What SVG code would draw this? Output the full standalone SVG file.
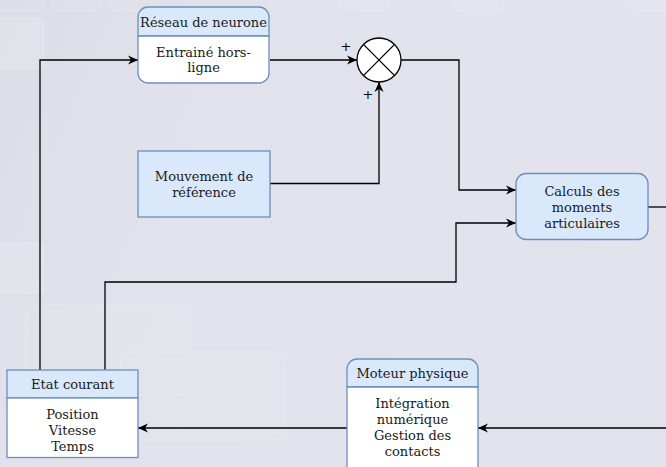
<svg xmlns="http://www.w3.org/2000/svg" width="666" height="467" viewBox="0 0 666 467">
<defs>
<linearGradient id="bg" x1="0" y1="0" x2="1" y2="0.3">
<stop offset="0" stop-color="#dcdde6"/>
<stop offset="0.35" stop-color="#e1e2eb"/>
<stop offset="1" stop-color="#e2e3ec"/>
</linearGradient>
<marker id="arr" viewBox="0 0 10 10" refX="10" refY="5" markerWidth="10" markerHeight="10" markerUnits="userSpaceOnUse" orient="auto">
<path d="M0,0.5 L10,5 L0,9.5 L3,5 z" fill="#000"/>
</marker>
<style>
.deco{fill:#ffffff;fill-opacity:0.04;stroke:#ffffff;stroke-opacity:0.25;stroke-width:1}
.hdr{fill:#dae8fc;stroke:#6c8ebf;stroke-width:1.3}
.body{fill:#ffffff;stroke:#6c8ebf;stroke-width:1.3}
.t{font-family:"DejaVu Serif",serif;font-size:13px;fill:#1a1a1a;text-anchor:middle}
.c{fill:none;stroke:#000;stroke-width:1.3}
.ca{fill:none;stroke:#000;stroke-width:1.3;marker-end:url(#arr)}
.plus{font-family:"DejaVu Sans",sans-serif;font-size:13px;fill:#000;text-anchor:middle}
</style>
</defs>
<rect x="0" y="0" width="666" height="467" fill="url(#bg)"/>
<g id="background">
<rect class="deco" x="-10" y="-20" width="54" height="31" rx="5"/>
<rect class="deco" x="53" y="-20" width="48" height="31" rx="5"/>
<rect class="deco" x="110" y="-20" width="48" height="31" rx="5"/>
<rect class="deco" x="340" y="-20" width="48" height="31" rx="5"/>
<rect class="deco" x="454" y="-20" width="49" height="31" rx="5"/>
<rect class="deco" x="626" y="-20" width="60" height="31" rx="5"/>
<rect class="deco" x="-10" y="18" width="54" height="50" rx="5" style="fill-opacity:0.12"/>
<rect class="deco" x="-10" y="243" width="54" height="50" rx="5" style="fill-opacity:0.12"/>
<rect class="deco" x="26" y="305" width="164" height="90" rx="10"/>
<rect class="deco" x="121" y="352" width="164" height="88" rx="10"/>
</g>
<g id="connectors">
<polyline class="ca" points="40,370 40,60 138,60"/>
<polyline class="ca" points="270,60 357,60"/>
<polyline class="ca" points="270,183.5 379,183.5 379,82"/>
<polyline class="ca" points="401,60 459,60 459,190 516,190"/>
<polyline class="ca" points="105,370 105,282 456,282 456,223 516,223"/>
<polyline class="c" points="648,207 666,207"/>
<polyline class="ca" points="666,428 478,428"/>
<polyline class="ca" points="347,428 138,428"/>
</g>
<g id="reseau">
<path class="hdr" d="M138,36 V17 A10,10 0 0 1 148,7 H259 A10,10 0 0 1 269,17 V36 Z"/>
<path class="body" d="M138,36 H269 V73 A10,10 0 0 1 259,83 H148 A10,10 0 0 1 138,73 Z"/>
<text class="t" x="203.5" y="26.5">Réseau de neurone</text>
<text class="t" x="203.5" y="56.5">Entrainé hors-</text>
<text class="t" x="203.5" y="72">ligne</text>
</g>
<g id="sommateur">
<circle cx="379" cy="60" r="22" fill="#fff" stroke="#000" stroke-width="1.3"/>
<line x1="363.4" y1="44.4" x2="394.6" y2="75.6" stroke="#000" stroke-width="1.3"/>
<line x1="394.6" y1="44.4" x2="363.4" y2="75.6" stroke="#000" stroke-width="1.3"/>
<text class="plus" x="346" y="51">+</text>
<text class="plus" x="368" y="98.5">+</text>
</g>
<g id="mouvement">
<rect class="hdr" x="138" y="151" width="132" height="66"/>
<text class="t" x="204" y="181">Mouvement de</text>
<text class="t" x="204" y="197">référence</text>
</g>
<g id="calculs">
<rect class="hdr" x="516" y="173.5" width="132" height="66" rx="10"/>
<text class="t" x="582" y="196">Calculs des</text>
<text class="t" x="582" y="212">moments</text>
<text class="t" x="582" y="228">articulaires</text>
</g>
<g id="etat">
<rect class="hdr" x="7" y="370" width="131" height="28"/>
<rect class="body" x="7" y="398" width="131" height="59.5"/>
<text class="t" x="72.5" y="389">Etat courant</text>
<text class="t" x="72.5" y="419">Position</text>
<text class="t" x="72.5" y="435">Vitesse</text>
<text class="t" x="72.5" y="451">Temps</text>
</g>
<g id="moteur">
<path class="hdr" d="M347,387 V369 A10,10 0 0 1 357,359 H468 A10,10 0 0 1 478,369 V387 Z"/>
<path class="body" d="M347,387 H478 V466 A10,10 0 0 1 468,476 H357 A10,10 0 0 1 347,466 Z"/>
<text class="t" x="412.5" y="378">Moteur physique</text>
<text class="t" x="412.5" y="408">Intégration</text>
<text class="t" x="412.5" y="424">numérique</text>
<text class="t" x="412.5" y="440">Gestion des</text>
<text class="t" x="412.5" y="456">contacts</text>
</g>
</svg>
